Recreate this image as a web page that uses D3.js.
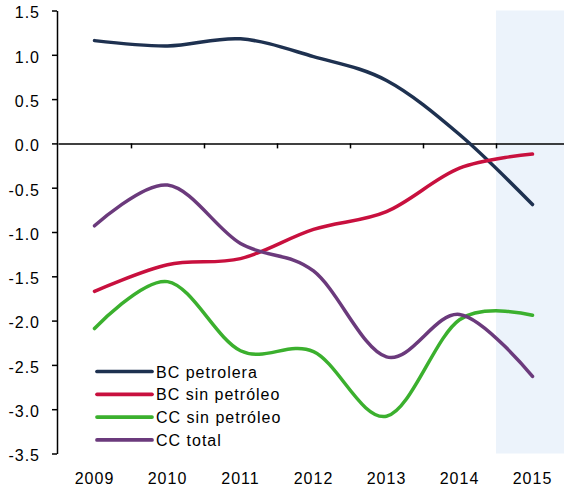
<!DOCTYPE html>
<html>
<head>
  <style>
    body {
      margin: 0;
      background: white;
    }
    text {
      font-family: "Liberation Sans", Arial, sans-serif;
      font-size: 16px;
      letter-spacing: 1px;
      fill: black;
    }
    .axis path, .axis line {
      stroke: black;
      stroke-width: 1.5;
    }
    .series {
      fill: none;
      stroke-width: 3.5;
      stroke-linecap: round;
    }
  </style>
</head>
<body>
  <script src="https://d3js.org/d3.v7.min.js"></script>
  <script>
    var width = 564, height = 490;

    var years = ["2009", "2010", "2011", "2012", "2013", "2014", "2015"];
    var yTicks = [1.5, 1.0, 0.5, 0.0, -0.5, -1.0, -1.5, -2.0, -2.5, -3.0, -3.5];
    var names = ["BC petrolera", "BC sin petróleo", "CC sin petróleo", "CC total"];
    var colors = ["#1e3150", "#c8103e", "#3bb02e", "#6b3a7c"];

    var bcPetrolera   = [1.16, 1.10, 1.18, 0.98, 0.71, 0.10, -0.69];
    var bcSinPetroleo = [-1.67, -1.37, -1.30, -0.97, -0.77, -0.28, -0.12];
    var ccSinPetroleo = [-2.09, -1.56, -2.34, -2.35, -3.08, -1.99, -1.94];
    var ccTotal       = [-0.93, -0.47, -1.13, -1.44, -2.41, -1.93, -2.63];
    var series = [bcPetrolera, bcSinPetroleo, ccSinPetroleo, ccTotal];

    var plot = {left: 58, right: 569, top: 10.5, bottom: 453.5};

    var x = d3.scaleBand().domain(years).range([plot.left, plot.right]);
    var xEdge = d3.scaleLinear().domain([0, years.length]).range([plot.left, plot.right]);
    var y = d3.scaleLinear().domain([-3.5, 1.5]).range([plot.bottom, plot.top]);

    var svg = d3.select("body").append("svg")
        .attr("width", width)
        .attr("height", height);

    // projection area
    svg.append("rect")
        .attr("x", x("2015"))
        .attr("y", y(1.5))
        .attr("width", plot.right - x("2015"))
        .attr("height", y(-3.5) - y(1.5))
        .attr("fill", "#ecf3fb");

    // zero line with category ticks
    svg.append("g")
        .attr("class", "axis")
        .attr("transform", "translate(0," + y(0) + ")")
        .call(d3.axisBottom(xEdge).tickValues(d3.range(1, years.length + 1))
          .tickSize(5).tickSizeOuter(0).tickFormat(""));

    // y axis
    svg.append("g")
        .attr("class", "axis")
        .attr("transform", "translate(" + (plot.left - 1) + ",0)")
        .call(d3.axisLeft(y).tickValues(yTicks).tickSize(5).tickSizeOuter(0)
          .tickPadding(12).tickFormat(d => d.toFixed(1)))
        .selectAll("text").attr("dy", "0.46em");

    // year labels
    svg.append("g")
        .attr("transform", "translate(0,470)")
        .call(d3.axisBottom(x).tickSize(0).tickPadding(3))
        .call(g => g.select(".domain").remove())
        .selectAll("text").attr("font-size", null).attr("font-family", null);

    svg.selectAll(".axis text").attr("font-size", null).attr("font-family", null);

    var line = d3.line()
        .x((d, i) => x(years[i]) + x.bandwidth() / 2)
        .y(d => y(d))
        .curve(d3.curveCatmullRom.alpha(0));

    svg.selectAll(".series")
        .data(series)
      .enter().append("path")
        .attr("class", "series")
        .attr("stroke", (d, i) => colors[i])
        .attr("stroke-width", (d, i) => i === 2 ? 4 : 3.7)
        .attr("d", line);

    // legend
    var legend = svg.selectAll(".legend")
        .data(names)
      .enter().append("g")
        .attr("class", "legend")
        .attr("transform", (d, i) => "translate(97," + (371.5 + i * 22.8) + ")");

    legend.append("line")
        .attr("x1", 0).attr("x2", 55)
        .attr("stroke", (d, i) => colors[i])
        .attr("stroke-width", 3.7)
        .attr("stroke-linecap", "round");

    legend.append("text")
        .attr("x", 59)
        .attr("y", 6)
        .text(d => d);
  </script>
</body>
</html>
